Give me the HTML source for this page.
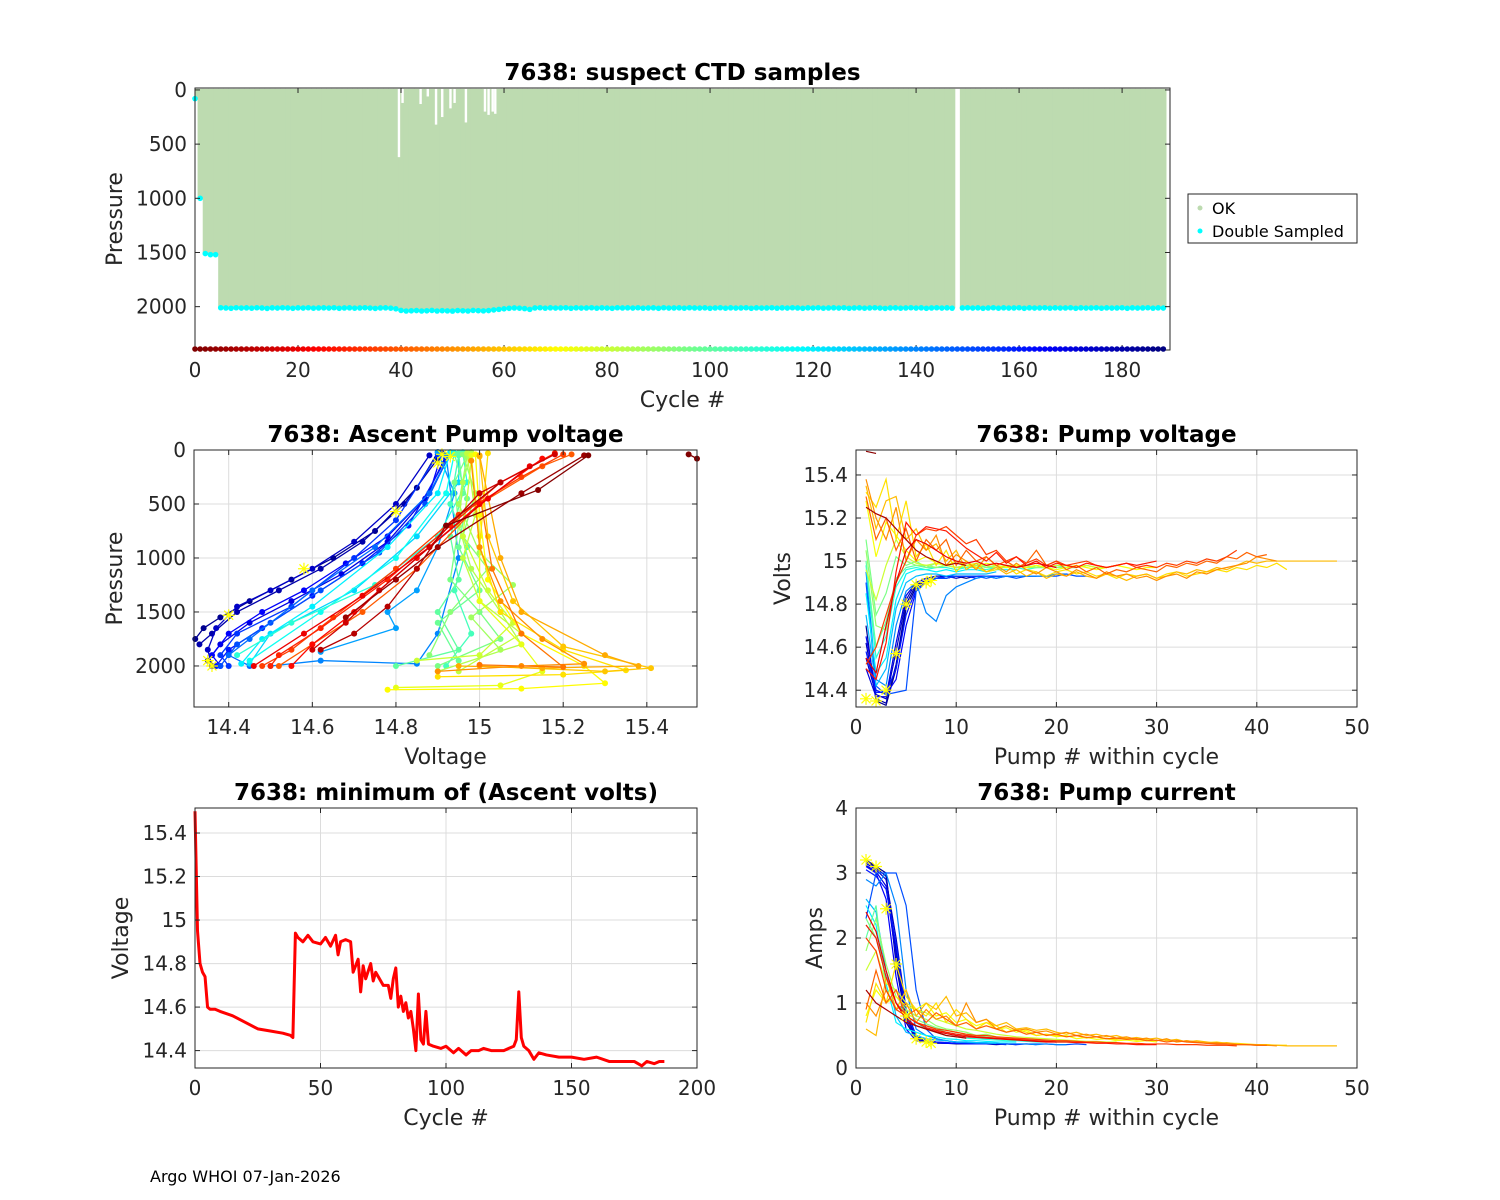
<!DOCTYPE html>
<html><head><meta charset="utf-8"><style>
html,body{margin:0;padding:0;background:#fff;}
svg{display:block;font-family:"DejaVu Sans","Liberation Sans",sans-serif;}
</style></head><body>
<svg id="fig" width="1500" height="1200" viewBox="0 0 1500 1200" xmlns="http://www.w3.org/2000/svg">
<rect width="1500" height="1200" fill="#fff"/>
<text x="150" y="1182" font-size="16" fill="#000">Argo WHOI 07-Jan-2026</text>
<g>
<rect x="1188" y="194" width="169" height="49" fill="#fff" stroke="#262626" stroke-width="1"/>
<circle cx="1200" cy="208" r="2.5" fill="#bddbb0"/>
<text x="1212" y="214" font-size="16" fill="#000">OK</text>
<circle cx="1200" cy="231" r="2.5" fill="#00ffff"/>
<text x="1212" y="237" font-size="16" fill="#000">Double Sampled</text>
</g>
</svg>
<script>
// ---------- DATA ----------
const topMaxP = [80,1000,1510,1520,1520,
2010,2012,2015,2010,2013,2011,2014,2010,2012,2016,2011,2013,2010,2012,2015,2011,2013,2010,2014,2012,
2011,2013,2010,2015,2012,2011,2014,2012,2010,2013,2016,2012,2011,2014,2020,2035,2040,2038,2036,2040,
2038,2035,2040,2037,2039,2041,2036,2038,2040,2035,2037,2039,2036,2030,2025,2020,2015,2012,2014,2018,
2025,2012,2010,2014,2011,2013,2012,2010,2015,2011,2013,2012,2010,2014,2011,2013,2015,2010,2012,2011,
2013,2010,2014,2012,2011,2015,2010,2013,2012,2011,2014,2010,2012,2013,2011,2015,2012,2010,2014,2011,
2013,2012,2010,2015,2011,2013,2012,2010,2014,2011,2013,2010,2012,2015,2011,2013,2010,2014,2012,2011,
2013,2010,2015,2012,2011,2014,2012,2010,2013,2016,2012,2011,2014,2012,2010,2013,2011,2015,2012,2010,
2013,2011,2014,null,
2012,2010,2013,2011,2015,2012,2010,2014,2011,2013,2012,2010,2015,2011,2013,2012,2010,2014,2011,2013,
2012,2010,2015,2011,2013,2012,2010,2014,2011,2013,2012,2010,2015,2011,2013,2012,2010,2014,2011,2013];
const topXTicks = [0,20,40,60,80,100,120,140,160,180];
const topYTicks = [0,500,1000,1500,2000];
const gapCycles = [39.6,40.3,43.8,45.2,46.8,48.0,49.6,50.4,52.6,56.3,57.0,57.8,58.3];
const gapDepth = [620,120,130,60,320,250,170,120,300,200,230,200,220];

const minCycles = [0,1,2,3,4,5,6,8,10,15,20,25,30,35,38,39,40,41,43,45,47,50,52,54,56,57,58,60,62,63,65,66,67,68,70,71,72,74,75,77,78,79,80,81,82,83,84,85,86,87,88,89,90,91,92,93,95,98,100,103,105,108,110,113,115,118,120,123,125,127,128,129,130,131,133,135,137,140,145,150,155,160,165,170,175,178,180,183,185,187];
const minVolts = [15.5,14.95,14.8,14.76,14.74,14.6,14.59,14.59,14.58,14.56,14.53,14.5,14.49,14.48,14.47,14.46,14.94,14.92,14.9,14.93,14.9,14.89,14.92,14.88,14.93,14.84,14.9,14.91,14.9,14.76,14.82,14.67,14.79,14.73,14.8,14.72,14.76,14.72,14.7,14.7,14.64,14.73,14.78,14.6,14.65,14.58,14.62,14.55,14.58,14.5,14.4,14.66,14.45,14.43,14.58,14.43,14.42,14.41,14.42,14.39,14.41,14.38,14.4,14.4,14.41,14.4,14.4,14.4,14.41,14.42,14.45,14.67,14.46,14.42,14.4,14.36,14.39,14.38,14.37,14.37,14.36,14.37,14.35,14.35,14.35,14.33,14.35,14.34,14.35,14.35];

const ascCycle = [185,180,175,170,165,160,155,150,145,140,135,125,120,115,110,105,100,98,95,92,88,85,82,80,75,70,65,60,55,50,45,40,35,30,25,20,15,10,5,1,0];
const ascV = [
[14.32,14.34,14.38,14.45,14.55,14.65,14.75,14.85,14.9],
[14.33,14.36,14.42,14.52,14.62,14.72,14.82,14.9],
[14.36,14.35,14.37,14.42,14.5,14.6,14.7,14.8,14.88],
[14.35,14.38,14.45,14.55,14.67,14.78,14.87,14.92],
[14.38,14.36,14.4,14.48,14.58,14.68,14.78,14.88,14.91],
[14.37,14.4,14.48,14.6,14.72,14.83,14.92],
[14.4,14.38,14.42,14.55,14.7,14.8,14.9],
[14.38,14.42,14.5,14.62,14.76,14.87,14.93],
[14.45,14.4,14.45,14.6,14.75,14.88,14.93],
[14.5,14.62,14.85,14.9,14.95,14.92],
[14.62,14.8,14.78,14.85,14.9,14.94,14.9],
[14.45,14.5,14.7,14.85,14.95,14.95],
[14.43,14.48,14.6,14.78,14.9,14.93],
[14.45,14.62,14.8,14.92,14.94],
[14.42,14.55,14.75,14.9,14.97,14.96],
[14.92,14.98,14.94,14.97,14.93,14.95],
[14.8,14.95,14.9,14.95,14.93,14.96,14.95],
[14.95,14.9,15.0,14.95,14.97,14.94],
[14.9,15.05,15.0,14.93,14.95,14.94,14.97],
[14.88,14.93,15.02,14.96,14.99,14.96],
[15.05,14.98,15.08,15.0,14.95,14.97],
[14.9,15.1,15.05,14.98,14.95,14.96,14.98],
[14.95,15.1,15.0,14.96,14.99,14.97],
[14.85,15.0,15.08,15.02,14.96,14.98],
[14.8,15.05,15.15,15.1,15.0,15.0,14.98],
[14.78,15.1,15.3,15.25,15.1,15.02,15.0,14.99],
[14.9,15.2,15.35,15.2,15.05,15.0,15.02],
[15.0,15.3,15.41,15.2,15.08,15.02,15.0],
[14.95,15.15,15.38,15.3,15.1,15.05,15.0],
[14.9,15.1,15.25,15.15,15.05,15.0,14.98],
[15.0,15.2,15.1,15.03,15.0],
[14.52,14.6,14.72,14.85,15.0,15.15,15.22],
[14.48,14.55,14.65,14.8,14.95,15.1,15.2],
[14.5,14.52,14.62,14.78,14.93,15.05,15.18],
[14.55,14.6,14.7,14.85,15.0,15.15],
[14.46,14.58,14.72,14.88,15.02,15.12],
[14.6,14.68,14.76,14.88,15.0,15.18],
[14.62,14.7,14.78,14.85,14.92,15.05],
[14.68,14.8,14.9,15.1,15.25],
[14.92,15.14,15.26],
[15.5,15.52]];
const ascP = [
[1750,1650,1550,1400,1200,1000,750,350,20],
[1800,1700,1500,1300,1100,850,500,80],
[2000,1850,1650,1450,1300,1100,850,500,50],
[1950,1800,1600,1400,1150,850,450,50],
[2000,1900,1700,1500,1300,1050,800,400,30],
[2000,1850,1650,1350,1050,700,80],
[2000,1900,1700,1450,1000,650,40],
[2000,1800,1600,1300,950,500,30],
[2000,1900,1750,1300,900,400,30],
[2000,1950,1980,1700,1000,50],
[1870,1650,1500,1300,900,400,20],
[1980,1700,1300,800,300,30],
[1980,1750,1450,900,400,20],
[1950,1500,1000,400,30],
[1900,1600,1250,800,300,20],
[2000,1700,1300,900,500,50],
[2000,1850,1500,1200,800,400,30],
[1950,1600,1300,900,450,40],
[2000,1750,1500,1200,700,300,50],
[1900,1500,1100,800,400,40],
[1850,1550,1250,950,500,60],
[2050,1800,1500,1100,700,300,20],
[2050,1700,1400,1000,600,30],
[1950,1900,1600,1300,800,100],
[2200,2180,2050,1800,1400,800,50],
[2220,2210,2160,2000,1700,1200,600,40],
[2100,2080,2040,1850,1500,900,30],
[2000,2050,2020,1820,1400,800,60],
[2000,2020,2000,1900,1500,1000,50],
[2050,2000,1980,1750,1400,900,100],
[1990,2010,1700,1100,400],
[2000,1800,1500,1100,500,150,40],
[2000,1850,1550,1100,600,250,40],
[2000,1900,1650,1200,700,300,30],
[2000,1800,1500,1000,500,80],
[2000,1700,1350,900,450,150],
[1850,1600,1300,900,400,40],
[1850,1700,1450,1100,700,300],
[1550,1200,900,400,50],
[700,370,50],
[40,80]];
const ascStarV = [14.36,14.35,14.4,14.58,14.8,14.9,14.93,14.91];
const ascStarP = [2000,1950,1530,1100,570,120,60,40];

const pvCycle = [185,180,175,170,165,160,150,140,130,120,110,100,95,90,80,72,65,58,50,42,35,28,20,8,2];
const pvVolts = [
[14.7,14.35,14.33,14.5,14.78,14.88,14.91,14.92,14.93,14.93,14.92,14.93,14.93,14.93,14.93,14.93],
[14.62,14.36,14.34,14.52,14.8,14.89,14.91,14.92,14.92,14.93,14.93,14.93,14.93],
[14.55,14.38,14.36,14.58,14.82,14.9,14.92,14.93,14.93,14.92,14.93,14.93,14.93,14.93],
[14.5,14.37,14.37,14.62,14.84,14.9,14.92,14.92,14.93,14.93,14.93,14.93,14.93,14.93,14.93],
[14.65,14.4,14.38,14.45,14.7,14.86,14.9,14.92,14.92,14.93,14.93,14.93,14.93,14.92,14.93,14.93,14.93,14.93],
[14.58,14.39,14.39,14.5,14.75,14.87,14.9,14.92,14.93,14.93,14.93,14.92,14.93,14.93,14.93,14.93],
[14.9,14.42,14.38,14.39,14.4,14.86,14.9,14.92,14.92,14.93,14.93,14.93,14.92,14.93,14.93,14.92,14.93,14.93,14.93,14.93,14.94,14.93,14.93],
[14.95,14.45,14.42,14.7,14.86,14.9,14.76,14.72,14.84,14.88,14.9,14.92,14.93,14.92,14.93,14.93,14.93,14.93,14.93,14.94,14.94],
[14.75,14.42,14.5,14.78,14.9,14.93,14.94,14.94,14.93,14.94,14.94,14.94,14.94,14.95],
[14.85,14.48,14.55,14.82,14.94,14.96,14.96,14.95,14.96,14.95,14.96,14.96,14.95,14.96,14.96,14.96],
[14.98,14.55,14.65,14.88,14.96,14.97,14.96,14.97,14.97,14.96,14.97,14.97,14.96,14.97,14.97,14.97,14.96,14.97,14.97],
[15.0,14.6,14.72,14.92,14.97,14.98,14.97,14.97,14.98,14.97,14.97,14.98,14.97,14.97,14.97,14.98,14.97,14.97,14.97,14.98,14.97,14.97],
[15.1,14.75,14.85,15.02,14.98,15.0,14.97,14.99,14.98,14.97,14.98,14.97,14.98,14.97,14.98,14.97,14.98,14.97,14.97,14.98],
[15.05,14.7,14.68,14.9,15.0,14.98,14.98,14.97,14.98,14.97,14.98,14.98,14.97,14.98,14.97,14.98,14.97,14.97,14.98,14.97,14.97,14.97,14.98,14.97,14.97],
[14.96,14.82,14.98,15.1,15.02,14.99,14.98,14.99,14.98,14.97,14.98,14.99,14.98,14.97,14.98,14.98,14.97,14.98,14.97,14.98,14.98,14.97,14.98,14.97,14.97,14.98],
[15.28,15.02,15.18,15.12,15.05,15.0,15.02,14.99,14.98,15.0,14.98,14.97,14.99,14.98,14.97,14.98,14.97,14.98,14.97,14.96,14.97,14.98,14.97,14.96,14.97,14.98,14.97,14.96,14.97,14.97],
[15.32,15.25,15.38,15.1,15.28,15.02,15.08,14.98,15.05,14.95,15.0,14.97,14.95,14.96,14.98,14.94,14.96,14.95,14.93,14.95,14.96,14.94,14.95,14.93,14.94,14.92,14.94,14.93,14.94,14.92,14.94,14.95,14.93,14.94,14.95,14.96,14.95,14.97,14.96,14.98,14.97,14.99,14.96],
[15.35,15.15,15.28,15.3,15.1,15.15,15.05,15.08,15.0,15.05,14.96,14.99,14.95,14.97,14.94,14.96,14.93,14.95,14.92,14.94,14.93,14.95,14.93,14.92,14.94,14.93,14.91,14.93,14.94,14.92,14.93,14.95,14.94,14.96,14.95,14.97,14.96,14.98,15.0,14.99,15.0,15.0,15.0,15.0,15.0,15.0,15.0,15.0],
[15.38,15.2,15.1,15.25,15.0,15.1,15.05,15.12,14.98,15.03,15.0,14.96,15.02,14.98,14.95,14.99,14.96,14.94,14.97,14.95,14.93,14.96,14.94,14.92,14.95,14.93,14.94,14.92,14.93,14.91,14.93,14.94,14.92,14.95,14.94,14.96,14.97,14.98,14.99,15.02,15.01,15.0],
[15.3,15.1,15.2,15.05,15.15,15.0,15.1,15.05,15.1,14.98,15.05,15.0,15.02,14.98,15.0,14.97,14.99,15.05,14.98,15.0,14.96,14.98,14.95,14.97,14.94,14.96,14.95,14.97,14.96,14.95,14.98,14.97,14.99,14.98,15.0,14.99,15.02,15.01,15.04,15.02,15.03],
[14.52,14.6,14.75,14.9,15.0,15.12,15.15,15.14,15.16,15.12,15.08,15.1,15.03,15.05,15.0,15.02,14.99,15.01,14.98,15.0,14.98,14.99,15.0,14.98,14.97,14.98,14.99,14.97,14.98,14.97,14.99,14.98,15.0,14.99,15.01,15.0,15.02,15.05],
[14.5,14.45,14.62,14.95,15.18,15.12,15.16,15.15,15.14,15.1,15.06,15.03,15.0,15.04,14.99,15.02,14.98,15.0,14.97,14.99,14.98,14.97,14.99,14.98,14.97,14.98,14.99,14.98,14.99,15.0],
[14.55,14.48,14.7,14.9,15.05,15.1,15.08,15.05,15.02,15.0,14.99,15.0,14.98,14.99,14.98,14.97,14.98,14.99,14.98,14.97],
[15.25,15.22,15.2,15.15,15.1,15.05,15.02,15.0,14.98,14.99,14.98],
[15.51,15.5]];
const pvStarX = [1,2,3,4,5,6,7,7.5];
const pvStarY = [14.36,14.35,14.4,14.57,14.8,14.89,14.9,14.91];

const piCycle = [185,180,175,170,165,160,150,140,130,120,110,100,95,90,80,72,65,58,50,42,35,28,20,8];
const piAmps = [
[3.2,3.1,3.0,1.6,0.7,0.45,0.4,0.38,0.38,0.37,0.37,0.37,0.37,0.36,0.37,0.36],
[3.18,3.08,2.95,1.8,0.8,0.48,0.41,0.39,0.38,0.38,0.37,0.37,0.37],
[3.15,3.05,2.9,2.0,0.9,0.5,0.42,0.4,0.39,0.38,0.38,0.37,0.37,0.37],
[3.12,3.02,2.8,1.7,0.75,0.46,0.41,0.39,0.38,0.38,0.37,0.37,0.37,0.37,0.36],
[3.1,3.0,2.6,1.4,0.6,0.42,0.4,0.39,0.38,0.38,0.37,0.37,0.37,0.37,0.37,0.36,0.37,0.36],
[3.05,2.95,2.75,1.9,0.85,0.5,0.42,0.4,0.39,0.38,0.38,0.37,0.37,0.37,0.37,0.37],
[2.3,3.0,3.0,3.0,2.5,1.2,0.6,0.45,0.42,0.4,0.39,0.38,0.38,0.38,0.37,0.37,0.37,0.37,0.37,0.36,0.36,0.37,0.36],
[2.9,2.8,3.0,2.5,1.2,0.6,0.5,0.45,0.42,0.4,0.4,0.39,0.38,0.38,0.37,0.37,0.37,0.36,0.37,0.36,0.36],
[2.6,2.4,1.5,0.8,0.55,0.5,0.45,0.43,0.42,0.4,0.4,0.39,0.39,0.38],
[2.5,2.2,1.3,0.7,0.6,0.55,0.5,0.48,0.45,0.44,0.42,0.42,0.41,0.4,0.4,0.4],
[2.2,2.0,1.5,1.0,0.8,0.7,0.6,0.55,0.5,0.48,0.46,0.45,0.44,0.43,0.42,0.42,0.41,0.4,0.4],
[2.0,2.5,1.2,0.9,0.8,0.7,0.65,0.6,0.55,0.52,0.5,0.48,0.47,0.45,0.44,0.43,0.42,0.42,0.41,0.4,0.4,0.4],
[2.3,2.0,1.4,1.0,0.85,0.75,0.68,0.62,0.58,0.55,0.52,0.5,0.48,0.46,0.45,0.44,0.43,0.42,0.41,0.4],
[1.8,2.3,1.6,1.1,0.9,0.8,0.75,0.65,0.6,0.58,0.55,0.5,0.52,0.48,0.46,0.45,0.44,0.43,0.42,0.42,0.41,0.4,0.4,0.4,0.39],
[1.5,1.8,1.3,1.2,1.0,0.9,0.85,0.75,0.7,0.65,0.6,0.58,0.55,0.52,0.5,0.48,0.47,0.46,0.45,0.44,0.43,0.42,0.41,0.41,0.4,0.4],
[0.8,1.2,1.0,1.1,0.95,0.9,1.0,0.8,0.85,0.7,0.75,0.65,0.7,0.6,0.62,0.55,0.58,0.5,0.52,0.48,0.5,0.45,0.47,0.44,0.45,0.42,0.43,0.41,0.42,0.4],
[0.7,1.3,1.0,1.6,1.1,0.9,0.8,1.0,0.7,0.9,0.75,0.6,0.7,0.65,0.55,0.6,0.55,0.5,0.52,0.5,0.48,0.5,0.46,0.48,0.45,0.44,0.46,0.43,0.45,0.42,0.44,0.4,0.42,0.4,0.39,0.4,0.38,0.38,0.37,0.36,0.36,0.35,0.35],
[0.6,0.5,1.4,0.9,1.2,0.8,1.0,0.9,1.1,0.8,0.85,0.7,0.75,0.65,0.7,0.6,0.62,0.58,0.6,0.55,0.52,0.55,0.5,0.52,0.48,0.5,0.45,0.47,0.44,0.46,0.42,0.44,0.4,0.42,0.4,0.38,0.39,0.37,0.36,0.36,0.35,0.35,0.34,0.34,0.34,0.34,0.34,0.34],
[1.0,0.8,1.2,0.9,1.0,0.7,0.9,0.75,0.8,0.65,1.0,0.7,0.75,0.6,0.65,0.58,0.6,0.55,0.57,0.52,0.55,0.5,0.52,0.48,0.5,0.46,0.48,0.44,0.46,0.42,0.45,0.4,0.42,0.4,0.38,0.39,0.37,0.36,0.36,0.35,0.35,0.34],
[0.9,1.5,1.0,1.2,0.8,0.9,0.7,0.85,0.75,0.65,0.7,0.6,0.65,0.6,0.55,0.58,0.52,0.55,0.5,0.52,0.48,0.5,0.47,0.48,0.45,0.46,0.44,0.45,0.42,0.43,0.4,0.42,0.4,0.39,0.38,0.37,0.37,0.36,0.36,0.35,0.35],
[2.0,1.8,1.2,0.9,0.8,0.7,0.65,0.6,0.58,0.55,0.52,0.5,0.5,0.48,0.47,0.46,0.45,0.44,0.43,0.42,0.42,0.41,0.4,0.4,0.39,0.39,0.38,0.38,0.37,0.37,0.37,0.36,0.36,0.36,0.35,0.35,0.35,0.34],
[2.2,2.0,1.4,1.0,0.8,0.7,0.62,0.58,0.55,0.52,0.5,0.48,0.47,0.46,0.45,0.44,0.43,0.42,0.41,0.4,0.4,0.39,0.39,0.38,0.38,0.37,0.37,0.36,0.36,0.36],
[2.4,2.1,1.5,1.0,0.75,0.65,0.6,0.56,0.53,0.5,0.48,0.47,0.46,0.45,0.44,0.43,0.42,0.41,0.4,0.4],
[1.2,1.0,0.9,0.8,0.7,0.65,0.6,0.55,0.5,0.48,0.46]];
const piStarX = [1,2,3,4,5,6,7,7.5];
const piStarY = [3.2,3.1,2.45,1.6,0.8,0.45,0.4,0.38];

// ---------- RENDER ----------
const NS = "http://www.w3.org/2000/svg";
const svg = document.getElementById('fig');
function mk(tag, attrs, parent){
  const e = document.createElementNS(NS, tag);
  for (const k in attrs) e.setAttribute(k, attrs[k]);
  (parent || svg).appendChild(e);
  return e;
}
function jet(t){
  t = Math.max(0, Math.min(1, t));
  const c = v => Math.round(255*Math.max(0, Math.min(1, v)));
  return `rgb(${c(1.5-Math.abs(4*t-3))},${c(1.5-Math.abs(4*t-2))},${c(1.5-Math.abs(4*t-1))})`;
}
const cycColor = c => jet(1 - c/188);

function makeAxes(o){
  const sx = v => o.x0 + (v - o.xmin)/(o.xmax - o.xmin)*(o.x1 - o.x0);
  const sy = o.revY ? (v => o.y0 + (v - o.ymin)/(o.ymax - o.ymin)*(o.y1 - o.y0))
                    : (v => o.y1 - (v - o.ymin)/(o.ymax - o.ymin)*(o.y1 - o.y0));
  const g = mk('g', {});
  
  
  mk('rect', {x:o.x0, y:o.y0, width:o.x1-o.x0, height:o.y1-o.y0, fill:'#fff'}, g);
  if (o.grid){
    o.xt.forEach(v => mk('line', {x1:sx(v), x2:sx(v), y1:o.y0, y2:o.y1, stroke:'#dcdcdc', 'stroke-width':1}, g));
    o.yt.forEach(v => mk('line', {x1:o.x0, x2:o.x1, y1:sy(v), y2:sy(v), stroke:'#dcdcdc', 'stroke-width':1}, g));
  }
  const plot = mk('g', {}, g);
  
  
  const fg = mk('g', {});
  mk('rect', {x:o.x0, y:o.y0, width:o.x1-o.x0, height:o.y1-o.y0, fill:'none', stroke:'#262626', 'stroke-width':1}, fg);
  o.xt.forEach((v,i) => {
    mk('line', {x1:sx(v), x2:sx(v), y1:o.y1, y2:o.y1-5, stroke:'#262626'}, fg);
    mk('line', {x1:sx(v), x2:sx(v), y1:o.y0, y2:o.y0+5, stroke:'#262626'}, fg);
    const t = mk('text', {x:sx(v), y:o.y1+27, 'font-size':20, fill:'#262626', 'text-anchor':'middle'}, fg);
    
    
    t.textContent = String(v);
  });
  o.yt.forEach((v,i) => {
    mk('line', {x1:o.x0, x2:o.x0+5, y1:sy(v), y2:sy(v), stroke:'#262626'}, fg);
    mk('line', {x1:o.x1, x2:o.x1-5, y1:sy(v), y2:sy(v), stroke:'#262626'}, fg);
    const t = mk('text', {x:o.x0-8, y:sy(v)+7, 'font-size':20, fill:'#262626', 'text-anchor':'end'}, fg);
    
    
    t.textContent = String(v);
  });
  const tt = mk('text', {x:(o.x0+o.x1)/2, y:o.y0-8, 'font-size':23, 'font-weight':'bold', fill:'#000', 'text-anchor':'middle'}, fg);
  
  
  tt.textContent = o.title;
  const xl = mk('text', {x:(o.x0+o.x1)/2, y:o.y1+57, 'font-size':22, fill:'#262626', 'text-anchor':'middle'}, fg);
  
  
  xl.textContent = o.xlabel;
  const yx = o.ylx, yy = (o.y0+o.y1)/2;
  const yl = mk('text', {x:yx, y:yy, 'font-size':22, fill:'#262626', 'text-anchor':'middle', transform:`rotate(-90 ${yx} ${yy})`}, fg);
  
  
  yl.textContent = o.ylabel;
  return {sx, sy, plot, fg};
}
function star(parent, x, y){
  const s = 6;
  const p = mk('path', {d:`M${x-s},${y}H${x+s}M${x},${y-s}V${y+s}M${x-4.5},${y-4.5}L${x+4.5},${y+4.5}M${x-4.5},${y+4.5}L${x+4.5},${y-4.5}`, stroke:'#ffff00', 'stroke-width':1.2, fill:'none'}, parent);
  
  
}

// ---- Top plot ----
{
  const A = makeAxes({name:'suspect-ctd-chart', x0:195, x1:1170, y0:88, y1:350, xmin:0, xmax:189.3, ymin:-18, ymax:2400, revY:true,
    xt:topXTicks, yt:topYTicks, title:'7638: suspect CTD samples', xlabel:'Cycle #', ylabel:'Pressure', ylx:122, grid:false});
  const w = A.sx(1)-A.sx(0);
  topMaxP.forEach((p,c) => {
    if (p === null) return;
    const x0 = Math.max(A.sx(c)-w/2, 195.5);
    const x1 = Math.min(A.sx(c)+w/2+0.6, 1169.5);
    const r = mk('rect', {x:x0, y:A.sy(-10), width:x1-x0, height:A.sy(p)-A.sy(-10), fill:'#bddbb0'}, A.plot);
    
    
  });
  gapCycles.forEach((c,i) => {
    const r = mk('rect', {x:A.sx(c)-1.2, y:A.sy(-10), width:2.4, height:A.sy(gapDepth[i])-A.sy(-10), fill:'#fff'}, A.plot);
    
    
  });
  topMaxP.forEach((p,c) => {
    if (p === null) return;
    const d = mk('circle', {cx:A.sx(c), cy:A.sy(p), r:2.8, fill:'#00ffff'}, A.plot);
    
    
  });
  topMaxP.forEach((p,c) => {
    const d = mk('circle', {cx:A.sx(c), cy:A.sy(2400)-1, r:2.8, fill:cycColor(c)}, A.fg);
    
    
  });
}

// ---- Middle-left ----
{
  const A = makeAxes({name:'ascent-pump-voltage-chart', x0:194, x1:697, y0:450, y1:707, xmin:14.317, xmax:15.52, ymin:0, ymax:2380, revY:true,
    xt:[14.4,14.6,14.8,15,15.2,15.4], yt:[0,500,1000,1500,2000], title:'7638: Ascent Pump voltage', xlabel:'Voltage', ylabel:'Pressure', ylx:122, grid:true});
  ascCycle.forEach((c,i) => {
    const col = cycColor(c);
    const pts = ascV[i].map((v,j) => A.sx(v)+','+A.sy(ascP[i][j])).join(' ');
    const l = mk('polyline', {points:pts, fill:'none', stroke:col, 'stroke-width':1.3}, A.plot);
    
    
    ascV[i].forEach((v,j) => {
      const d = mk('circle', {cx:A.sx(v), cy:A.sy(ascP[i][j]), r:3, fill:col}, A.plot);
      
      
    });
  });
  ascStarV.forEach((v,i) => star(A.plot, A.sx(v), A.sy(ascStarP[i])));
}

// ---- Middle-right ----
{
  const A = makeAxes({name:'pump-voltage-chart', x0:856, x1:1357, y0:450, y1:707, xmin:0, xmax:50, ymin:14.322, ymax:15.516, revY:false,
    xt:[0,10,20,30,40,50], yt:[14.4,14.6,14.8,15,15.2,15.4], title:'7638: Pump voltage', xlabel:'Pump # within cycle', ylabel:'Volts', ylx:790, grid:true});
  pvCycle.forEach((c,i) => {
    const pts = pvVolts[i].map((v,j) => A.sx(j+1)+','+A.sy(v)).join(' ');
    const l = mk('polyline', {points:pts, fill:'none', stroke:cycColor(c), 'stroke-width':1.2}, A.plot);
    
    
  });
  pvStarX.forEach((x,i) => star(A.plot, A.sx(x), A.sy(pvStarY[i])));
}

// ---- Bottom-left ----
{
  const A = makeAxes({name:'minimum-ascent-volts-chart', x0:195, x1:697, y0:808, y1:1068, xmin:0, xmax:200, ymin:14.32, ymax:15.515, revY:false,
    xt:[0,50,100,150,200], yt:[14.4,14.6,14.8,15,15.2,15.4], title:'7638: minimum of (Ascent volts)', xlabel:'Cycle #', ylabel:'Voltage', ylx:128, grid:true});
  const pts = minCycles.map((c,i) => A.sx(c)+','+A.sy(minVolts[i])).join(' ');
  const l = mk('polyline', {points:pts, fill:'none', stroke:'#ff0000', 'stroke-width':3, 'stroke-linejoin':'round'}, A.plot);
  
  
}

// ---- Bottom-right ----
{
  const A = makeAxes({name:'pump-current-chart', x0:856, x1:1357, y0:808, y1:1068, xmin:0, xmax:50, ymin:0, ymax:4, revY:false,
    xt:[0,10,20,30,40,50], yt:[0,1,2,3,4], title:'7638: Pump current', xlabel:'Pump # within cycle', ylabel:'Amps', ylx:822, grid:true});
  piCycle.forEach((c,i) => {
    const pts = piAmps[i].map((v,j) => A.sx(j+1)+','+A.sy(v)).join(' ');
    const l = mk('polyline', {points:pts, fill:'none', stroke:cycColor(c), 'stroke-width':1.2}, A.plot);
    
    
  });
  piStarX.forEach((x,i) => star(A.plot, A.sx(x), A.sy(piStarY[i])));
}
</script>
</body></html>
